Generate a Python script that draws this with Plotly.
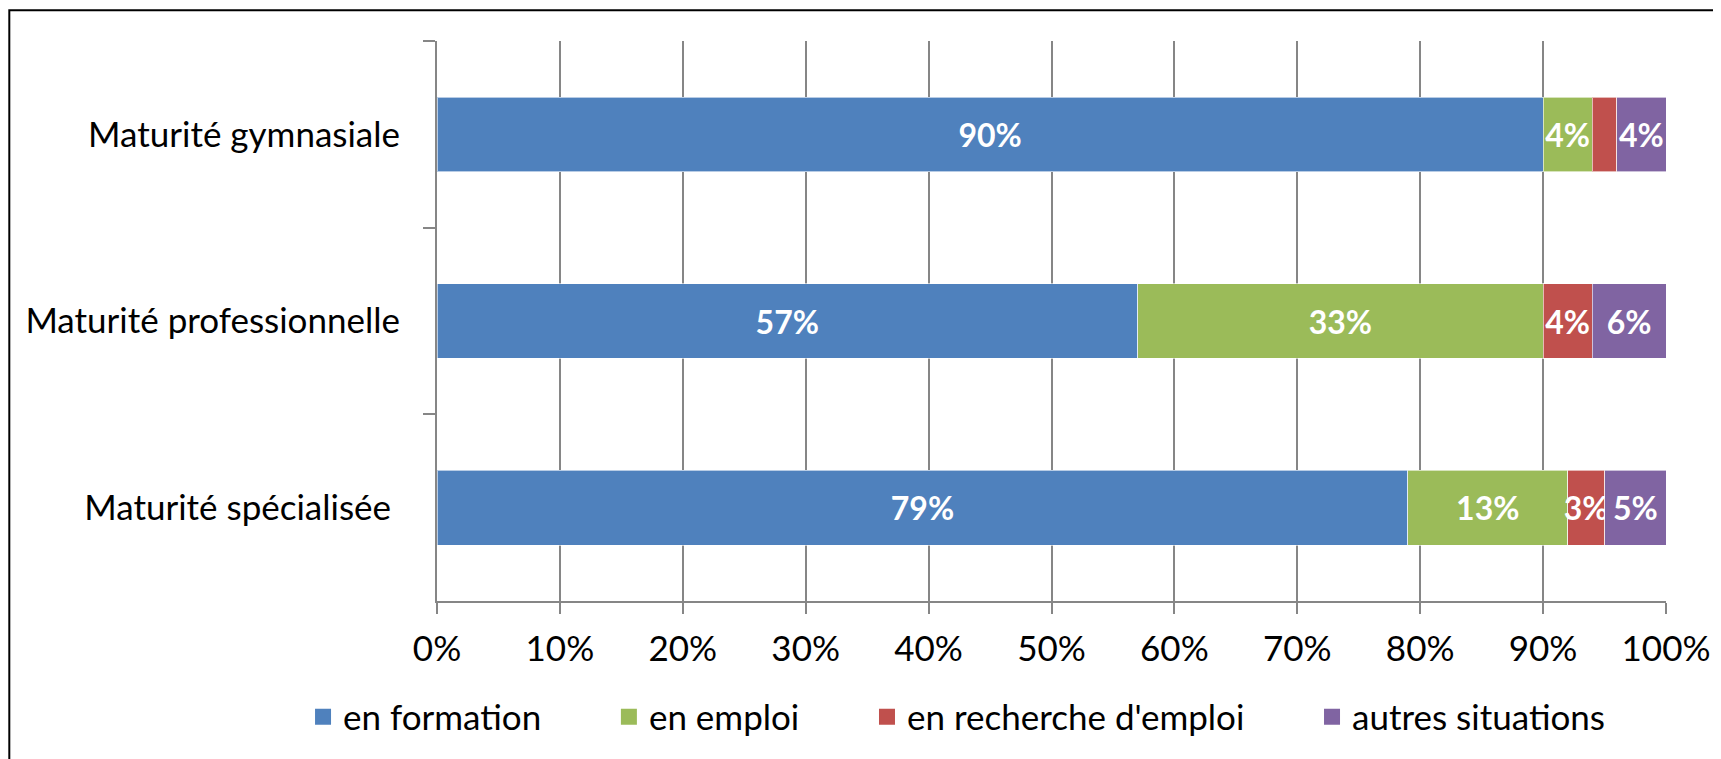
import plotly.graph_objects as go

categories = ["Maturité gymnasiale", "Maturité professionnelle", "Maturité spécialisée "]
en_formation = [90, 57, 79]
en_emploi = [4, 33, 13]
en_recherche = [2, 4, 3]
autres = [4, 6, 5]

series = [
    ("en formation", en_formation, "#4F81BD"),
    ("en emploi", en_emploi, "#9BBB59"),
    ("en recherche d'emploi", en_recherche, "#C0504D"),
    ("autres situations", autres, "#8064A2"),
]

font_name = "Lato"
pad = "\u00a0" * 7  # wider gaps between legend entries

fig = go.Figure()
for i, (name, vals, col) in enumerate(series):
    # the 2% label is not shown in the original
    labels = [f"{v}%" if v >= 3 else "" for v in vals]
    fig.add_trace(go.Bar(
        y=categories, x=vals, name=name, orientation="h", showlegend=False,
        marker=dict(color=col, line=dict(color="rgba(255,255,255,0.6)", width=1)),
        text=labels, textposition="inside", insidetextanchor="middle",
        textangle=0, constraintext="none",
        textfont=dict(family=font_name, size=32, color="white", weight="bold"),
    ))
    # legend-only entry so the key square is bigger
    fig.add_trace(go.Scatter(
        x=[None], y=[None], mode="markers", name=name + (pad if i < len(series) - 1 else ""),
        marker=dict(symbol="square", size=16, color=col),
    ))

grey = "#868686"
fig.update_layout(
    barmode="stack",
    bargap=0.6,
    width=1721, height=759,
    margin=dict(l=429, r=63, t=33, b=166, autoexpand=False),
    paper_bgcolor="white", plot_bgcolor="white",
    font=dict(family=font_name, size=35, color="black"),
    showlegend=True,
    legend=dict(orientation="h", x=-0.109, xanchor="left", y=-0.207, yanchor="middle",
                font=dict(size=35), itemwidth=30, traceorder="normal"),
    xaxis=dict(range=[0, 100], tickvals=list(range(0, 101, 10)),
               ticktext=[f"{t}%" for t in range(0, 101, 10)],
               showgrid=True, gridcolor=grey, gridwidth=1.5,
               showline=True, linecolor=grey, linewidth=2,
               ticks="outside", ticklen=11, tickcolor=grey, tickwidth=2,
               ticklabelstandoff=5, zeroline=False),
    yaxis=dict(categoryorder="array", categoryarray=categories, autorange="reversed",
               showline=True, linecolor=grey, linewidth=2,
               ticks="outside", ticklen=12, tickcolor=grey, tickwidth=2,
               tickson="boundaries", ticklabelstandoff=28, showgrid=False),
    shapes=[dict(type="rect", xref="paper", yref="paper",
                 x0=-0.348, x1=1.06, y0=-0.32, y1=1.055,
                 line=dict(color="black", width=2), fillcolor="rgba(0,0,0,0)", layer="below")],
)

fig.write_html("out.html")
